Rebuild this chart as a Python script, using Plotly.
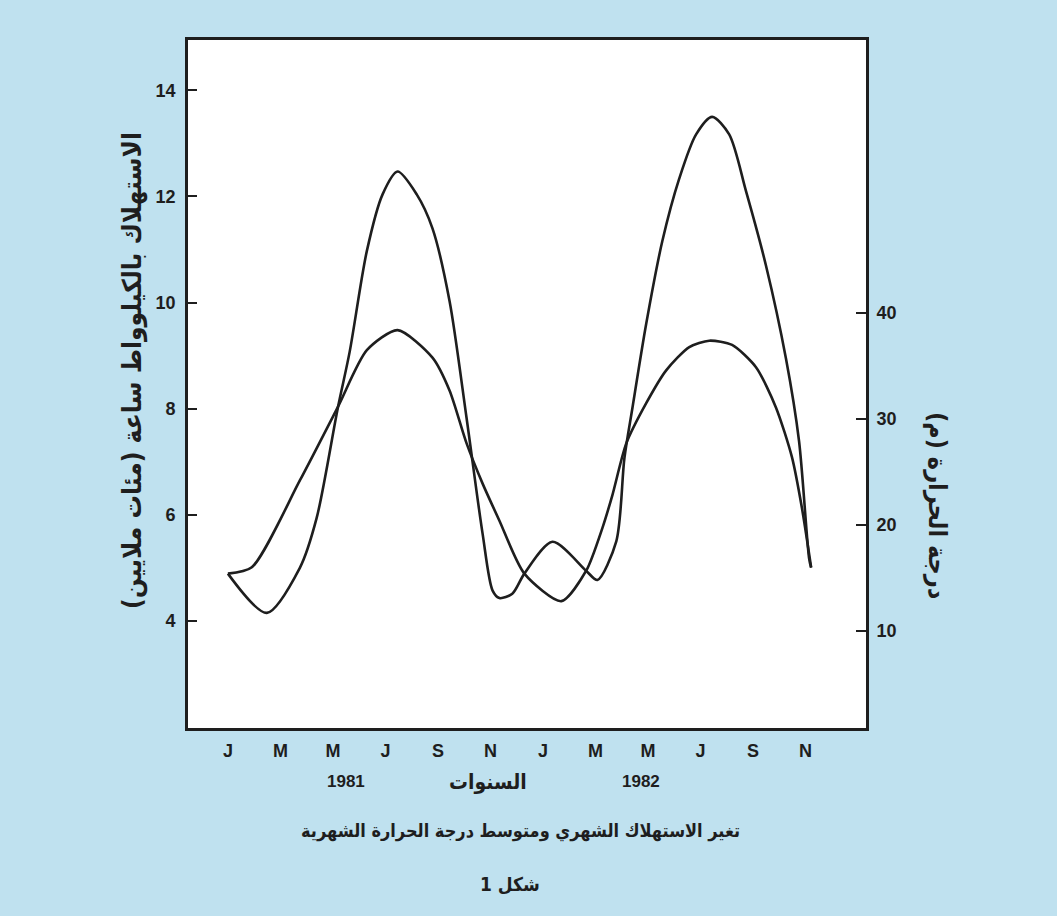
import plotly.graph_objects as go

# ---- data (months counted from Jan 1981 = 0) ----
cons_month = [0, 1.48, 2.74, 3.38, 4.18, 4.64, 5.29, 5.89, 6.46, 7.19, 7.79, 8.44, 9.09, 9.70,
              10.08, 10.34, 10.83, 11.29, 12.36, 13.65, 14.07, 14.79, 15.10, 15.40, 15.93, 16.54,
              17.19, 17.83, 18.44, 19.09, 19.73, 20.49, 21.25, 21.75, 22.13, 22.21]
cons_val = [4.89, 4.15, 5.0, 5.94, 8.0, 9.08, 10.97, 12.04, 12.47, 12.04, 11.4, 10.03, 7.82, 5.64,
            4.57, 4.43, 4.51, 4.89, 5.49, 4.94, 4.77, 5.5, 7.07, 8.0, 9.6, 11.15,
            12.34, 13.17, 13.5, 13.17, 12.1, 10.7, 8.95, 7.39, 5.19, 5.0]

temp_month = [0, 0.91, 2.74, 4.18, 5.29, 6.46, 7.79, 8.44, 9.09, 9.70, 10.34, 11.29, 12.70, 13.65,
              14.26, 14.64, 15.17, 15.93, 16.69, 17.57, 18.33, 19.20, 20.11, 20.87, 21.48, 21.86, 22.21]
temp_val = [15.4, 16.0, 24.2, 31.1, 36.5, 38.4, 35.8, 32.7, 27.7, 23.9, 20.4, 15.4, 12.8, 15.7,
            19.7, 22.8, 27.7, 31.5, 34.6, 36.8, 37.4, 37.0, 34.9, 31.1, 26.4, 21.6, 16.0]

month_ticks = [0, 2, 4, 6, 8, 10, 12, 14, 16, 18, 20, 22]
month_labels = ["J", "M", "M", "J", "S", "N", "J", "M", "M", "J", "S", "N"]
left_ticks = [4, 6, 8, 10, 12, 14]
right_ticks = [10, 20, 30, 40]
years = ["1981", "1982"]

left_title = "\u200fالاستهلاك بالكيلوواط ساعة (مئات ملايين)\u200f"
right_title = "\u200fدرجة الحرارة (م)\u200f"
x_title = "السنوات"
main_title = "تغير الاستهلاك الشهري ومتوسط درجة الحرارة الشهرية"
fig_label = "شكل 1"

# ---- layout geometry ----
W, H = 1057, 916
L, R, T, B = 188, 866, 40, 728
BG = "#bfe1ef"
INK = "#1e1e1e"
FONT = "Liberation Sans"
AR_FONT = "DejaVu Sans Condensed, DejaVu Sans"


def px(x):
    return (x - L) / (R - L)


def py(y):
    return (B - y) / (B - T)


fig = go.Figure()
fig.add_trace(go.Scatter(x=cons_month, y=cons_val, mode="lines",
                         line=dict(color=INK, width=2.6, shape="spline", smoothing=0.8),
                         yaxis="y", showlegend=False, hoverinfo="skip"))
fig.add_trace(go.Scatter(x=temp_month, y=temp_val, mode="lines",
                         line=dict(color=INK, width=2.6, shape="spline", smoothing=0.7),
                         yaxis="y2", showlegend=False, hoverinfo="skip"))

tick_font = dict(family=FONT, size=18, color=INK, weight="bold")
fig.update_layout(
    width=W, height=H,
    margin=dict(l=L, r=W - R, t=T, b=H - B, pad=0),
    paper_bgcolor=BG, plot_bgcolor="white",
    xaxis=dict(range=[-1.52, 24.3], tickvals=month_ticks, ticktext=month_labels,
               showgrid=False, zeroline=False, showline=True, mirror=True,
               linecolor=INK, linewidth=2.6, ticks="", ticklabelstandoff=5,
               tickfont=tick_font),
    yaxis=dict(range=[1.98, 14.95], tickvals=left_ticks, showgrid=False, zeroline=False,
               showline=True, linecolor=INK, linewidth=2.6, ticks="inside", ticklen=9,
               tickwidth=2, tickcolor=INK, ticklabelstandoff=6, tickfont=tick_font),
    yaxis2=dict(range=[0.82, 65.8], tickvals=right_ticks, overlaying="y", side="right",
                showgrid=False, zeroline=False, showline=True, linecolor=INK, linewidth=2.6,
                ticks="inside", ticklen=10, tickwidth=2, tickcolor=INK, ticklabelstandoff=4,
                tickfont=tick_font),
)

ann = [
    dict(text=years[0], x=px(346), y=py(781), size=17, font=FONT, angle=0),
    dict(text=x_title, x=px(488), y=py(782), size=21, font=AR_FONT, angle=0),
    dict(text=years[1], x=px(641), y=py(781), size=17, font=FONT, angle=0),
    dict(text=main_title, x=px(520), y=py(831), size=18, font=AR_FONT, angle=0),
    dict(text=fig_label, x=px(510), y=py(884), size=19, font=AR_FONT, angle=0),
    dict(text=left_title, x=px(132), y=py(371), size=26, font=AR_FONT, angle=-90),
    dict(text=right_title, x=px(937), y=py(505), size=25, font=AR_FONT, angle=90),
]
for a in ann:
    fig.add_annotation(text=a["text"], x=a["x"], y=a["y"], xref="paper", yref="paper",
                       showarrow=False, xanchor="center", yanchor="middle",
                       textangle=a["angle"],
                       font=dict(family=a["font"], size=a["size"], color=INK, weight="bold"))

fig.write_html("out.html",
               config={"displayModeBar": False},
               post_script="document.body.style.margin='0';"
                           "document.body.style.overflow='hidden';"
                           f"document.body.style.background='{BG}';")
